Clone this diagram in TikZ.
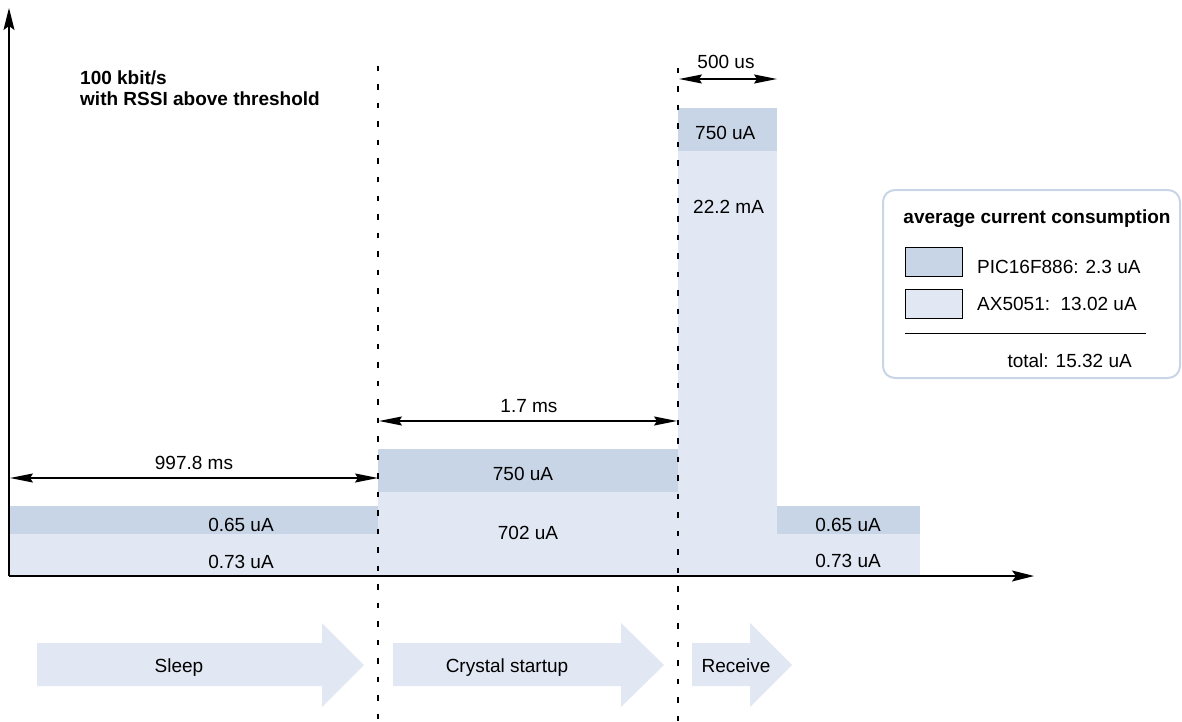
\documentclass[tikz,border=0pt]{standalone}
\usepackage{fontspec}
\setmainfont{Liberation Sans}
\usetikzlibrary{arrows.meta}
\definecolor{darkband}{RGB}{200,213,230}
\definecolor{lightband}{RGB}{225,232,243}
\definecolor{legendborder}{RGB}{200,213,230}
\begin{document}
\begin{tikzpicture}[x=1pt,y=-1pt,
  txt/.style={font=\fontsize{19}{21}\selectfont, inner sep=0pt, anchor=base},
  btxt/.style={font=\bfseries\fontsize{19}{21}\selectfont, inner sep=0pt, anchor=base west},
  axisline/.style={line width=1.6pt, -{Stealth[length=22pt,width=11pt,inset=4pt]}},
  dimline/.style={line width=1.2pt, {Stealth[length=23pt,width=9pt,inset=3pt]}-{Stealth[length=23pt,width=9pt,inset=3pt]}},
  sepline/.style={line width=1.8pt, dash pattern=on 5.5pt off 13pt},
  darkbar/.style={fill=darkband, draw=none},
  lightbar/.style={fill=lightband, draw=none},
  phasearrow/.style={fill=lightband, draw=none},
  swatch/.style={draw=black, line width=1pt},
]
\useasboundingbox (0,0) rectangle (1182,722);

% bars
\fill[lightbar] (10,534) rectangle (378,576);
\fill[darkbar] (10,506) rectangle (378,534);
\fill[lightbar] (378,492) rectangle (678,576);
\fill[darkbar] (378,449) rectangle (678,492);
\fill[lightbar] (678,151) rectangle (777,576);
\fill[darkbar] (678,108) rectangle (777,151);
\fill[lightbar] (777,534) rectangle (920,576);
\fill[darkbar] (777,506) rectangle (920,534);

% bar labels
\node[txt] (s1) at (241,531) {0.65 uA};
\node[txt] (s2) at (241,568) {0.73 uA};
\node[txt] (c1) at (523,480) {750 uA};
\node[txt] (c2) at (528,539) {702 uA};
\node[txt, anchor=base west] (r1) at (695,140) {750 uA};
\node[txt, anchor=base west] (r2) at (693,213) {22.2 mA};
\node[txt] (a1) at (848,531) {0.65 uA};
\node[txt] (a2) at (848,567) {0.73 uA};

% axes
\coordinate (o) at (9,576);
\coordinate (ytop) at (9,8);
\coordinate (xend) at (1034,576);
\draw[axisline] (o) -- (ytop);
\draw[axisline] (o) -- (xend);

% separators
\coordinate (d1t) at (378,66);
\coordinate (d1b) at (378,722);
\coordinate (d2t) at (678,68);
\coordinate (d2b) at (678,722);

% dimensions
\coordinate (m1a) at (10,478);
\coordinate (m1b) at (378,478);
\draw[dimline] (m1a) -- (m1b);
\node[txt] (m1l) at (194,469) {997.8 ms};
\coordinate (m2a) at (379,421);
\coordinate (m2b) at (677,421);
\draw[dimline] (m2a) -- (m2b);
\node[txt] (m2l) at (529,412) {1.7 ms};
\coordinate (m3a) at (679,79);
\coordinate (m3b) at (777,79);
\draw[dimline] (m3a) -- (m3b);
\node[txt] (m3l) at (726,69) {500 us};

% title
\node[btxt] (t1) at (80,85) {100 kbit/s};
\node[btxt] (t2) at (80,106) {with RSSI above threshold};

% legend
\draw[rounded corners=12pt, draw=legendborder, line width=2pt] (883,190) rectangle (1180,378);
\node[txt, font=\bfseries\fontsize{19}{21}\selectfont] (lt) at (1037,223) {average current consumption};
\draw[swatch, fill=darkband] (905,247) rectangle (962,276);
\draw[swatch, fill=lightband] (905,289) rectangle (962,318);
\node[txt, anchor=base west] (l1) at (977,273) {PIC16F886: 2.3 uA};
\node[txt, anchor=base west] (l2) at (977,310) {AX5051:\ \ 13.02 uA};
\coordinate (lla) at (905,333);
\coordinate (llb) at (1146,333);
\draw[line width=1pt] (lla) -- (llb);
\node[txt, anchor=base east] (l3) at (1132,367) {total: 15.32 uA};

% phase arrows
\fill[phasearrow] (37,643) -- (322,643) -- (322,623) -- (364,665) -- (322,707) -- (322,686) -- (37,686) -- cycle;
\fill[phasearrow] (393,643) -- (621,643) -- (621,623) -- (664,665) -- (621,707) -- (621,686) -- (393,686) -- cycle;
\fill[phasearrow] (692,643) -- (750,643) -- (750,623) -- (792,665) -- (750,707) -- (750,686) -- (692,686) -- cycle;
\node[txt] (p1) at (179,672) {Sleep};
\node[txt] (p2) at (507,672) {Crystal startup};
\node[txt] (p3) at (736,672) {Receive};

% separators on top
\draw[sepline] (d1t) -- (d1b);
\draw[sepline] (d2t) -- (d2b);
\end{tikzpicture}
\end{document}
